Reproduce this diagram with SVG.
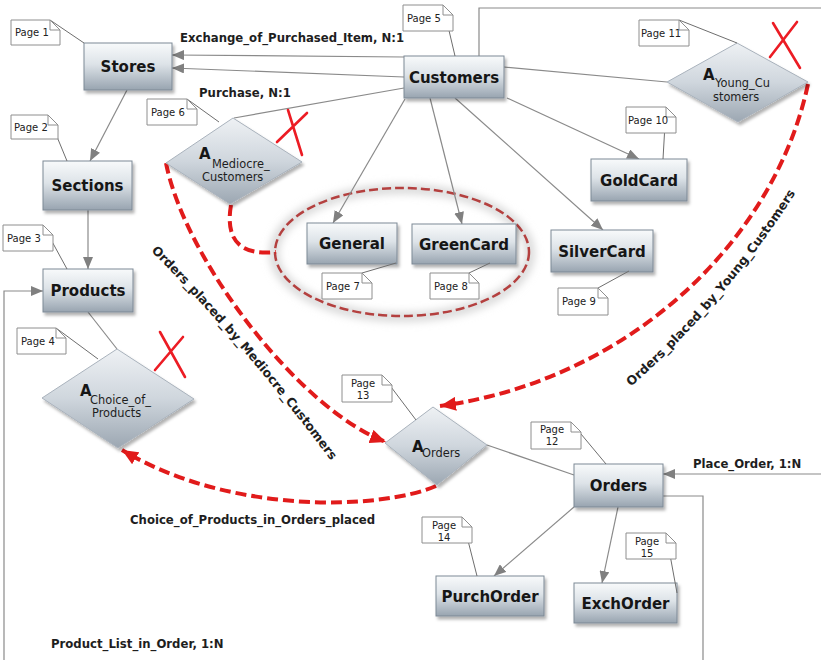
<svg xmlns="http://www.w3.org/2000/svg" width="821" height="660" viewBox="0 0 821 660">
  <style>
    .box { fill: url(#boxGrad); stroke: #7d8995; stroke-width: 1; filter: url(#shadow); }
    .dia { fill: url(#diaGrad); stroke: #a9b2bc; stroke-width: 1; filter: url(#shadow); }
    .lbl { font-family: "DejaVu Sans", Verdana, sans-serif; font-weight: bold; font-size: 15px; fill: #161616; text-anchor: middle; }
    .dA { font-family: "DejaVu Sans", Verdana, sans-serif; font-weight: bold; font-size: 15px; fill: #161616; }
    .dS { font-family: "DejaVu Sans", Verdana, sans-serif; font-size: 11.4px; fill: #1e1e1e; }
    .note { fill: #ffffff; stroke: #8e8e8e; stroke-width: 1; }
    .fold { fill: none; stroke: #8e8e8e; stroke-width: 1; }
    .ntx { font-family: "DejaVu Sans", Verdana, sans-serif; font-size: 10px; fill: #222222; }
    .lead { fill: none; stroke: #6e6e6e; stroke-width: 1; }
    .conn { fill: none; stroke: #8a8a8a; stroke-width: 1.2; }
    .arr { marker-end: url(#gArrow); }
    .elbl { font-family: "DejaVu Sans", Verdana, sans-serif; font-weight: bold; font-size: 11.7px; fill: #1e1e1e; }
    .dlbl { font-family: "DejaVu Sans", Verdana, sans-serif; font-weight: bold; font-size: 12.5px; fill: #1e1e1e; }
    .red { fill: none; stroke: #e11b1b; stroke-width: 4; stroke-dasharray: 11 5; }
    .redArr { marker-end: url(#rArrow); }
    .xmark { stroke: #ec1c24; stroke-width: 2.6; stroke-linecap: round; fill: none; }
  </style>
  <defs>
    <linearGradient id="boxGrad" x1="0" y1="0" x2="0" y2="1">
      <stop offset="0" stop-color="#f8fafb"/>
      <stop offset="0.45" stop-color="#dde3e8"/>
      <stop offset="1" stop-color="#98a4b0"/>
    </linearGradient>
    <linearGradient id="diaGrad" x1="0" y1="0" x2="0" y2="1">
      <stop offset="0" stop-color="#eef1f4"/>
      <stop offset="0.5" stop-color="#cfd6dd"/>
      <stop offset="1" stop-color="#9ca7b2"/>
    </linearGradient>
    <filter id="shadow" x="-15%" y="-15%" width="140%" height="150%">
      <feDropShadow dx="2" dy="3" stdDeviation="1.5" flood-color="#000000" flood-opacity="0.3"/>
    </filter>
    <filter id="soft" x="-20%" y="-30%" width="140%" height="160%">
      <feGaussianBlur stdDeviation="4"/>
    </filter>
    <marker id="gArrow" viewBox="0 0 12 10" refX="12" refY="5" markerWidth="12" markerHeight="10" markerUnits="userSpaceOnUse" orient="auto">
      <path d="M0,0 L12,5 L0,10 z" fill="#808080"/>
    </marker>
    <marker id="rArrow" viewBox="0 0 16 14" refX="16" refY="7" markerWidth="16" markerHeight="14" markerUnits="userSpaceOnUse" orient="auto">
      <path d="M0,0 L16,7 L0,14 z" fill="#e11b1b"/>
    </marker>
  </defs>

  <!-- group ring around the card types -->
  <g id="cardGroup">
    <ellipse cx="402" cy="253" rx="128" ry="64" fill="none" stroke="#d6d6d6" stroke-width="9" filter="url(#soft)"/>
    <ellipse cx="402" cy="252" rx="127" ry="64" fill="none" stroke="#b4403f" stroke-width="2.5" stroke-dasharray="9 4"/>
  </g>

  <!-- connectors -->
  <g id="connectors">
    <path class="conn arr" d="M404,57 L172,55"/>
    <path class="conn arr" d="M404,77 L172,68"/>
    <path class="conn arr" d="M127,90 L90,161"/>
    <path class="conn arr" d="M88,210 L88,269"/>
    <path class="conn arr" d="M405,99 L333,223"/>
    <path class="conn arr" d="M430,98 L462,224"/>
    <path class="conn arr" d="M455,98 L603,230"/>
    <path class="conn arr" d="M507,98 L639,159"/>
    <path class="conn" d="M504,67 L667,82"/>
    <path class="conn" d="M404,88 L234,118"/>
    <path class="conn" d="M88,312 L117,349"/>
    <path class="conn" d="M487,445 L574,475"/>
    <path class="conn arr" d="M574,507 L494,576"/>
    <path class="conn arr" d="M618,507 L602,583"/>
    <path class="conn arr" d="M479,56 V8 H840 V474 H663"/>
    <path class="conn arr" d="M663,496 H703 V680 H4 V291 H43"/>

    <text class="elbl" x="180" y="42">Exchange_of_Purchased_Item, N:1</text>
    <text class="elbl" x="199" y="97">Purchase, N:1</text>
    <text class="elbl" x="693" y="468">Place_Order, 1:N</text>
    <text class="elbl" x="51" y="648">Product_List_in_Order, 1:N</text>
    <text class="elbl" x="130" y="524">Choice_of_Products_in_Orders_placed</text>

    <!-- derived-relationship arcs -->
    <path class="red redArr" d="M166,163 C185,260 300,410 386,442"/>
    <path class="red redArr" d="M808,84 C775,240 630,380 440,406"/>
    <path class="red redArr" d="M436,486 C380,510 230,515 122,450"/>
    <path class="red" d="M231,205 C225,240 240,256 276,252"/>

    <path id="medLabelPath" d="M150,250 Q242,342 332,462" fill="none"/>
    <path id="youngLabelPath" d="M625,392 Q726,304 800,186" fill="none"/>
    <text class="dlbl"><textPath href="#medLabelPath" startOffset="50%" text-anchor="middle">Orders_placed_by_Mediocre_Customers</textPath></text>
    <text class="dlbl"><textPath href="#youngLabelPath" startOffset="50%" text-anchor="middle">Orders_placed_by_Young_Customers</textPath></text>
  </g>

  <!-- entity boxes -->
  <g id="stores"><rect class="box" x="84" y="43" width="88" height="47"/><text class="lbl" x="128" y="72">Stores</text></g>
  <g id="customers"><rect class="box" x="404" y="56" width="100" height="42"/><text class="lbl" x="454" y="82.5">Customers</text></g>
  <g id="sections"><rect class="box" x="43" y="161" width="89" height="49"/><text class="lbl" x="87.5" y="191">Sections</text></g>
  <g id="products"><rect class="box" x="43" y="269" width="90" height="43"/><text class="lbl" x="88" y="296">Products</text></g>
  <g id="general"><rect class="box" x="307" y="223" width="90" height="41"/><text class="lbl" x="352" y="249">General</text></g>
  <g id="greencard"><rect class="box" x="412" y="224" width="104" height="40"/><text class="lbl" x="464" y="249.5">GreenCard</text></g>
  <g id="silvercard"><rect class="box" x="551" y="230" width="102" height="42"/><text class="lbl" x="602" y="256.5">SilverCard</text></g>
  <g id="goldcard"><rect class="box" x="591" y="159" width="96" height="42"/><text class="lbl" x="639" y="185.5">GoldCard</text></g>
  <g id="orders"><rect class="box" x="574" y="464" width="89" height="43"/><text class="lbl" x="618.5" y="491">Orders</text></g>
  <g id="purchorder"><rect class="box" x="436" y="576" width="108" height="40"/><text class="lbl" x="490" y="601.5">PurchOrder</text></g>
  <g id="exchorder"><rect class="box" x="574" y="583" width="103" height="40"/><text class="lbl" x="625.5" y="608.5">ExchOrder</text></g>

  <!-- aggregation diamonds -->
  <g id="aMediocre">
    <polygon class="dia" points="166,163 233,118 302,162 230,204"/>
    <text class="dA" x="199" y="159">A</text>
    <text class="dS" x="212" y="168">Mediocre_</text>
    <text class="dS" x="202" y="181">Customers</text>
  </g>
  <g id="aYoung">
    <polygon class="dia" points="667,82 737,43 808,82 738,122"/>
    <text class="dA" x="703" y="80">A</text>
    <text class="dS" x="715" y="87">Young_Cu</text>
    <text class="dS" x="713" y="101">stomers</text>
  </g>
  <g id="aChoice">
    <polygon class="dia" points="42,398 117,349 194,399 118,448"/>
    <text class="dA" x="80" y="396">A</text>
    <text class="dS" x="90" y="404">Choice_of_</text>
    <text class="dS" x="92" y="417">Products</text>
  </g>
  <g id="aOrders">
    <polygon class="dia" points="385,443 433,407 487,445 437,485"/>
    <text class="dA" x="412" y="452">A</text>
    <text class="dS" x="422" y="457">Orders</text>
  </g>

  <!-- strike marks -->
  <g id="strikes">
    <path class="xmark" d="M277,142 L307,113 M288,110 L302,155"/>
    <path class="xmark" d="M770,57 L797,22 M773,23 L800,68"/>
    <path class="xmark" d="M155,370 L183,337 M160,332 L185,377"/>
  </g>

  <!-- page notes -->
  <g id="page1"><path class="lead" d="M50,20 L84,43"/><path class="note" d="M11,20 H50 L60,30 V45 H11 z"/><path class="fold" d="M50,20 V30 H60"/><text class="ntx" x="15" y="36">Page 1</text></g>
  <g id="page2"><path class="lead" d="M48,115 L67,161"/><path class="note" d="M11,115 H48 L58,125 V139 H11 z"/><path class="fold" d="M48,115 V125 H58"/><text class="ntx" x="14" y="131">Page 2</text></g>
  <g id="page3"><path class="lead" d="M43,225 L67,269"/><path class="note" d="M3,225 H43 L53,235 V251 H3 z"/><path class="fold" d="M43,225 V235 H53"/><text class="ntx" x="7" y="242">Page 3</text></g>
  <g id="page4"><path class="lead" d="M56,328 L98,359"/><path class="note" d="M17,328 H56 L66,338 V354 H17 z"/><path class="fold" d="M56,328 V338 H66"/><text class="ntx" x="21" y="345">Page 4</text></g>
  <g id="page5"><path class="lead" d="M443,5 L455,56"/><path class="note" d="M403,5 H443 L453,15 V31 H403 z"/><path class="fold" d="M443,5 V15 H453"/><text class="ntx" x="407" y="22">Page 5</text></g>
  <g id="page6"><path class="lead" d="M187,99 L219,122"/><path class="note" d="M147,99 H187 L197,109 V125 H147 z"/><path class="fold" d="M187,99 V109 H197"/><text class="ntx" x="151" y="116">Page 6</text></g>
  <g id="page7"><path class="lead" d="M362,273 L396,263"/><path class="note" d="M322,273 H362 L372,283 V299 H322 z"/><path class="fold" d="M362,273 V283 H372"/><text class="ntx" x="326" y="290">Page 7</text></g>
  <g id="page8"><path class="lead" d="M469,273 L490,263"/><path class="note" d="M430,273 H469 L479,283 V299 H430 z"/><path class="fold" d="M469,273 V283 H479"/><text class="ntx" x="434" y="290">Page 8</text></g>
  <g id="page9"><path class="lead" d="M598,288 L629,271"/><path class="note" d="M558,288 H598 L608,298 V315 H558 z"/><path class="fold" d="M598,288 V298 H608"/><text class="ntx" x="562" y="305">Page 9</text></g>
  <g id="page10"><path class="lead" d="M666,107 L663,159"/><path class="note" d="M626,107 H666 L676,117 V133 H626 z"/><path class="fold" d="M666,107 V117 H676"/><text class="ntx" x="628" y="124">Page 10</text></g>
  <g id="page11"><path class="lead" d="M679,20 L737,43"/><path class="note" d="M639,20 H679 L689,30 V46 H639 z"/><path class="fold" d="M679,20 V30 H689"/><text class="ntx" x="641" y="37">Page 11</text></g>
  <g id="page12"><path class="lead" d="M571,422 L606,464"/><path class="note" d="M531,422 H571 L581,432 V449 H531 z"/><path class="fold" d="M571,422 V432 H581"/><text class="ntx" x="552" y="433" text-anchor="middle">Page</text><text class="ntx" x="552" y="445" text-anchor="middle">12</text></g>
  <g id="page13"><path class="lead" d="M382,375 L416,420"/><path class="note" d="M342,375 H382 L392,385 V402 H342 z"/><path class="fold" d="M382,375 V385 H392"/><text class="ntx" x="363" y="387" text-anchor="middle">Page</text><text class="ntx" x="363" y="399" text-anchor="middle">13</text></g>
  <g id="page14"><path class="lead" d="M462,517 L477,576"/><path class="note" d="M422,517 H462 L472,527 V543 H422 z"/><path class="fold" d="M462,517 V527 H472"/><text class="ntx" x="444" y="529" text-anchor="middle">Page</text><text class="ntx" x="444" y="541" text-anchor="middle">14</text></g>
  <g id="page15"><path class="lead" d="M666,533 L677,593"/><path class="note" d="M626,533 H666 L676,543 V559 H626 z"/><path class="fold" d="M666,533 V543 H676"/><text class="ntx" x="647" y="545" text-anchor="middle">Page</text><text class="ntx" x="647" y="557" text-anchor="middle">15</text></g>
</svg>
